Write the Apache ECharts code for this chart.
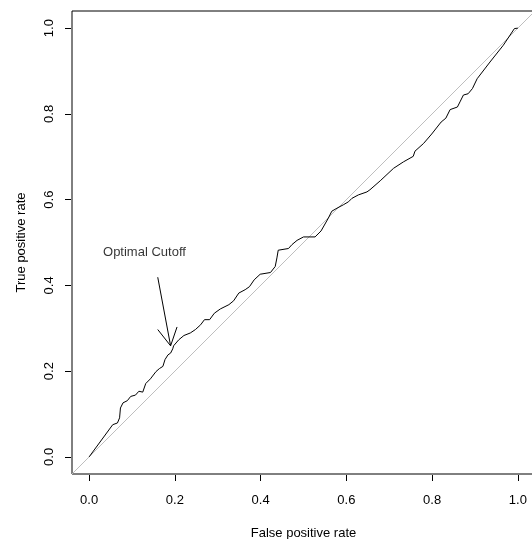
<!DOCTYPE html>
<html>
<head>
<meta charset="utf-8">
<script src="https://cdn.jsdelivr.net/npm/echarts@6/dist/echarts.min.js"></script>
<style>
  html, body { margin: 0; padding: 0; background: #fff; }
  #chart { width: 532px; height: 539px; }
</style>
</head>
<body>
<div id="chart"></div>
<script>
// ROC curve points: false positive rate / true positive rate
const fpr = [0, 0.055, 0.066, 0.071, 0.073, 0.079, 0.089, 0.097, 0.108, 0.116, 0.125, 0.132, 0.143, 0.156, 0.164, 0.172,
  0.177, 0.184, 0.190, 0.195, 0.197, 0.209, 0.221, 0.236, 0.248, 0.260, 0.269, 0.281, 0.292, 0.306, 0.326, 0.337,
  0.349, 0.364, 0.374, 0.385, 0.399, 0.423, 0.434, 0.438, 0.441, 0.465, 0.473, 0.485, 0.500, 0.527, 0.541, 0.558,
  0.566, 0.578, 0.593, 0.605, 0.613, 0.628, 0.648, 0.655, 0.679, 0.710, 0.733, 0.756, 0.760, 0.780, 0.799, 0.821,
  0.832, 0.842, 0.859, 0.865, 0.873, 0.884, 0.894, 0.905, 0.935, 0.966, 0.992, 1.0]
const tpr = [0, 0.075, 0.079, 0.091, 0.114, 0.126, 0.131, 0.141, 0.144, 0.153, 0.151, 0.171, 0.182, 0.199, 0.206, 0.211,
  0.227, 0.238, 0.242, 0.252, 0.259, 0.273, 0.283, 0.289, 0.297, 0.308, 0.320, 0.320, 0.335, 0.345, 0.355, 0.364,
  0.382, 0.390, 0.397, 0.413, 0.426, 0.430, 0.444, 0.464, 0.482, 0.486, 0.495, 0.505, 0.513, 0.513, 0.527, 0.557,
  0.573, 0.580, 0.588, 0.595, 0.603, 0.611, 0.618, 0.623, 0.644, 0.673, 0.688, 0.701, 0.713, 0.731, 0.753, 0.781,
  0.790, 0.810, 0.816, 0.828, 0.844, 0.847, 0.859, 0.882, 0.921, 0.960, 0.999, 1.0]

const ticks = [0, 0.2, 0.4, 0.6, 0.8, 1.0]
const axisMin = -0.04
const axisMax = 1.04

// annotation: label position, arrow shaft and arrow head
const cutoffLabel = 'Optimal Cutoff'
const labelAt = [0.129, 0.478]
const arrowShaft = [[0.160, 0.419], [0.190, 0.259]]
const arrowHead = [[0.160, 0.297], [0.190, 0.259], [0.205, 0.303]]

const font = '"Liberation Sans", Arial, Helvetica, sans-serif'

const chart = echarts.init(document.getElementById('chart'), null, { renderer: 'canvas' })

function axis (name, isY) {
  return {
    type: 'value',
    name: name,
    nameLocation: 'middle',
    nameGap: isY ? 43 : 52,
    nameTextStyle: { fontFamily: font, fontSize: 13, color: '#000' },
    min: axisMin,
    max: axisMax,
    offset: 1,
    splitLine: { show: false },
    axisLine: { show: false, onZero: false },
    axisTick: { show: true, inside: false, length: 6, customValues: ticks, lineStyle: { color: '#000', width: 1 } },
    axisLabel: {
      customValues: ticks,
      margin: isY ? 15 : 19,
      rotate: isY ? 90 : 0,
      fontFamily: font,
      fontSize: 13,
      color: '#000',
      formatter: v => v.toFixed(1)
    }
  }
}

chart.setOption({
  animation: false,
  backgroundColor: '#fff',
  grid: {
    left: 72, top: 11, right: -3, bottom: 65,
    outerBoundsMode: 'none',
    containLabel: false,
    show: true, borderColor: '#000', borderWidth: 1, backgroundColor: 'transparent'
  },
  xAxis: axis('False positive rate', false),
  yAxis: axis('True positive rate', true),
  series: [
    {
      type: 'line',
      data: [[axisMin, axisMin], [axisMax, axisMax]],
      symbol: 'none',
      silent: true,
      lineStyle: { color: '#bebebe', width: 1 }
    },
    {
      type: 'line',
      data: fpr.map((x, i) => [x, tpr[i]]),
      symbol: 'none',
      silent: true,
      lineStyle: { color: '#000', width: 1 }
    },
    {
      type: 'line',
      data: arrowShaft,
      symbol: 'none',
      silent: true,
      lineStyle: { color: '#000', width: 1 }
    },
    {
      type: 'line',
      data: arrowHead,
      symbol: 'none',
      silent: true,
      lineStyle: { color: '#000', width: 1 }
    },
    {
      type: 'scatter',
      data: [labelAt],
      symbolSize: 1,
      silent: true,
      itemStyle: { color: 'transparent' },
      label: {
        show: true,
        position: 'inside',
        formatter: cutoffLabel,
        fontFamily: font,
        fontSize: 13,
        color: '#000'
      }
    }
  ]
})
</script>
</body>
</html>
